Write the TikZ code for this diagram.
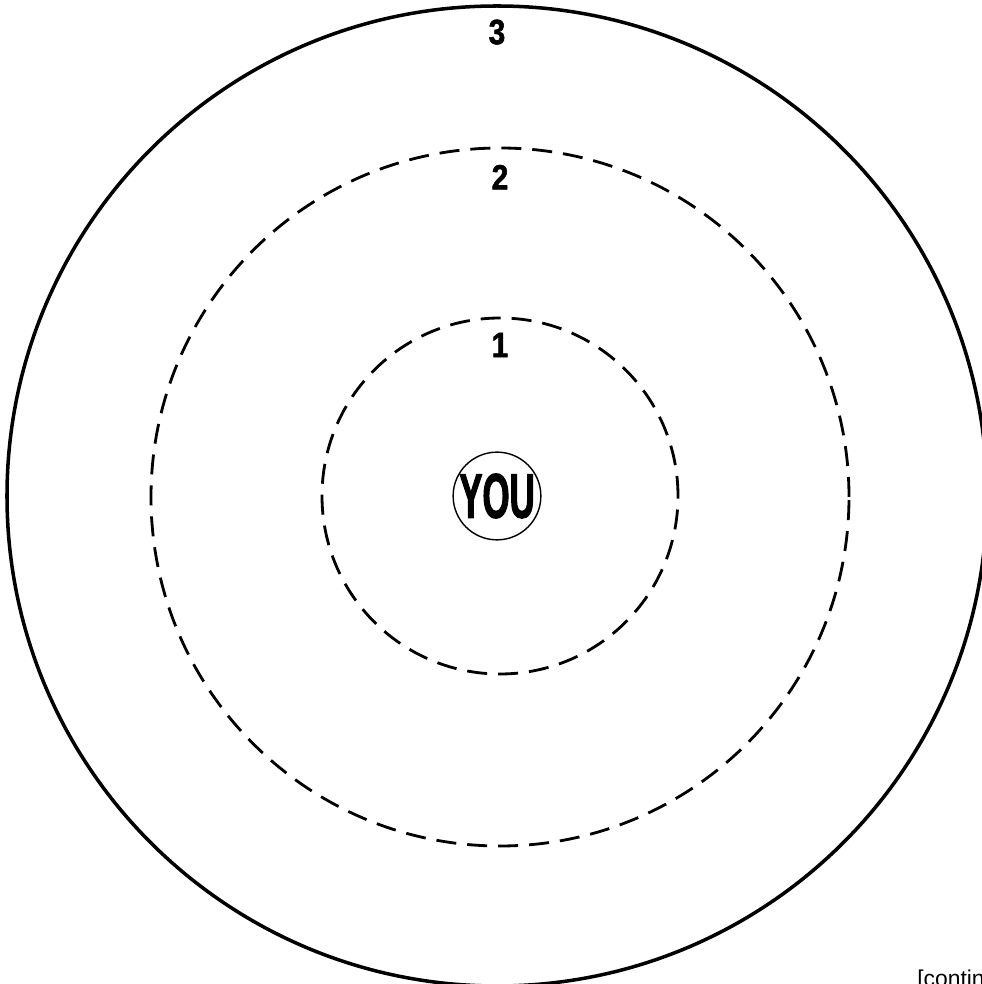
\documentclass[tikz,border=0pt]{standalone}
\usepackage{fontspec}
\setsansfont{Liberation Sans}
\newfontfamily\youfont[FakeStretch=0.55, FakeBold=1.5]{Liberation Sans}
\newfontfamily\ringfont[FakeStretch=0.85, FakeBold=1.5]{Liberation Sans}
\usetikzlibrary{positioning}

\begin{document}
\begin{tikzpicture}[
    node distance=0.3cm,
    outerring/.style={circle, draw=black, inner sep=0pt, line width=2pt},
    ring/.style={circle, draw=black, inner sep=0pt, line width=1.6pt,
                 dash pattern=on 0.4cm off 0.22cm},
    ringnum/.style={inner sep=0pt, font=\fontsize{20}{20}\selectfont\ringfont\bfseries},
    youbox/.style={circle, draw=black, inner sep=0pt, line width=0.8pt, minimum size=1.68cm,
                   font=\fontsize{36}{36}\selectfont\youfont\bfseries}
  ]
    \useasboundingbox (0,0) rectangle (19.64,19.68);
    \clip (0,0) rectangle (19.64,19.68);
    \fill[white] (0,0) rectangle (19.64,19.68);

    \node[outerring, minimum size=19.6cm] (ring3) at (9.94,9.76) {};
    \node[ring, minimum size=6.98cm*2] (ring2) at (10.0,9.74) {};
    \node[ring, minimum size=3.56cm*2] (ring1) at (10.0,9.76) {};
    \node[youbox] (you) at (9.94,9.76) {YOU};

    \node[ringnum, below=0.3cm of ring3.north] (num3) {3};
    \node[ringnum, below=0.36cm of ring2.north] (num2) {2};
    \node[ringnum, below=0.32cm of ring1.north] (num1) {1};

    \node[anchor=north west, inner sep=0pt, font=\sffamily\fontsize{13}{13}\selectfont]
      (cont) at (18.34,0.28) {[contin};
  \end{tikzpicture}
\end{document}
